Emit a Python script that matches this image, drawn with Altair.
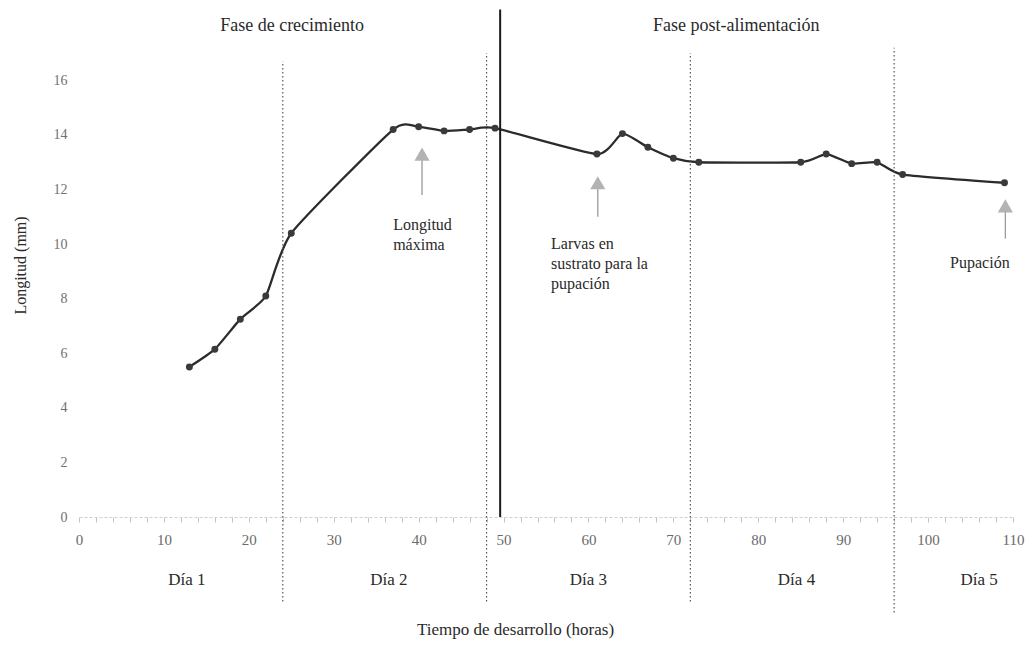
import altair as alt
import pandas as pd

# Longitud larval medida cada 3 horas
horas = [13, 16, 19, 22, 25, 37, 40, 43, 46, 49, 61, 64, 67, 70, 73, 85, 88, 91, 94, 97, 109]
longitud = [5.5, 6.15, 7.25, 8.1, 10.4, 14.2, 14.3, 14.15, 14.2, 14.25,
            13.3, 14.05, 13.55, 13.15, 13.0, 13.0, 13.3, 12.95, 13.0, 12.55, 12.25]

# Límites entre días (líneas punteadas)
limites_dia = [24, 48, 72, 96]
limites_sup = [16.7, 17.0, 17.0, 17.2]
limites_inf = [-3.1, -3.1, -3.1, -3.5]

# Cambio de fase (línea continua)
cambio_fase = [49.6]
cambio_sup = [18.6]

# Rótulos de los días
dias = ["Día 1", "Día 2", "Día 3", "Día 4", "Día 5"]
dias_x = [12.7, 36.5, 60.0, 84.5, 106.0]
dias_y = [-2.3, -2.3, -2.3, -2.3, -2.3]

# Rótulos de las fases
fases = ["Fase de crecimiento", "Fase post-alimentación"]
fases_x = [25.1, 77.4]
fases_y = [18.0, 18.0]

# Flechas de los eventos
flechas_x = [40.4, 61.1, 109.1]
flechas_punta = [13.6, 12.55, 11.7]
flechas_base = [11.8, 11.0, 10.2]

# Textos de los eventos
eventos = ["Longitud\nmáxima", "Larvas en\nsustrato para la\npupación", "Pupación"]
eventos_x = [37.0, 55.6, 106.1]
eventos_y = [11.0, 10.3, 9.6]
eventos_alin = ["left", "left", "center"]

FUENTE = "Liberation Serif"
X_DOM = [0, 110]
Y_DOM = [0, 18.8]
TX = "Tiempo de desarrollo (horas)"
TY = "Longitud (mm)"

escala_x = alt.Scale(domain=X_DOM, nice=False, zero=False)
escala_y = alt.Scale(domain=Y_DOM, nice=False, zero=False)

eje_x = alt.Axis(
    values=list(range(0, 111, 2)),
    labelExpr="datum.value % 10 == 0 ? datum.label : ''",
    labelOverlap=False, labelFlush=False, grid=False,
    domainColor="#cfcfcf", domainDash=[3, 2], domainWidth=1,
    tickColor="#c4c4c4", tickSize=5, tickWidth=1,
    labelPadding=10, labelFont=FUENTE, labelFontSize=15, labelColor="#6a6a6a",
    titleFont=FUENTE, titleFontSize=17, titleFontWeight="normal", titleColor="#2a2a2a",
    titleY=112, titleX=436, titleBaseline="middle", titleAlign="center",
)
eje_y = alt.Axis(
    values=list(range(0, 17, 2)),
    domain=False, ticks=False, grid=False,
    labelPadding=12, labelFont=FUENTE, labelFontSize=14, labelColor="#707070",
    titleFont=FUENTE, titleFontSize=16, titleFontWeight="normal", titleColor="#2a2a2a",
    titleAngle=270, titleX=-59, titleY=261, titleAlign="center", titleBaseline="middle",
)


def ex(campo="horas"):
    return alt.X(f"{campo}:Q", scale=escala_x, axis=eje_x, title=TX)


def ey(campo="longitud"):
    return alt.Y(f"{campo}:Q", scale=escala_y, axis=eje_y, title=TY)


datos = pd.DataFrame({"horas": horas, "longitud": longitud})

curva = alt.Chart(datos).mark_line(
    interpolate="cardinal", tension=0.45, color="#2b2b2b", strokeWidth=2.3
).encode(x=ex(), y=ey())

puntos = alt.Chart(datos).mark_circle(
    size=48, color="#3a3a3a", opacity=1
).encode(x=ex(), y=ey())

df_lim = pd.DataFrame({"horas": limites_dia, "sup": limites_sup, "inf": limites_inf})
lineas_dia = alt.Chart(df_lim).mark_rule(
    color="#555555", strokeWidth=1.2, strokeDash=[1.5, 2.5]
).encode(x=ex(), y=ey("inf"), y2="sup:Q")

df_fase = pd.DataFrame({"horas": cambio_fase, "inf": [0.0], "sup": cambio_sup})
linea_fase = alt.Chart(df_fase).mark_rule(
    color="#1a1a1a", strokeWidth=2
).encode(x=ex(), y=ey("inf"), y2="sup:Q")

df_dias = pd.DataFrame({"horas": dias_x, "longitud": dias_y, "texto": dias})
rot_dias = alt.Chart(df_dias).mark_text(
    font=FUENTE, fontSize=17, color="#2a2a2a", align="center", baseline="middle"
).encode(x=ex(), y=ey(), text="texto:N")

df_fases = pd.DataFrame({"horas": fases_x, "longitud": fases_y, "texto": fases})
rot_fases = alt.Chart(df_fases).mark_text(
    font=FUENTE, fontSize=18, color="#2a2a2a", align="center", baseline="middle"
).encode(x=ex(), y=ey(), text="texto:N")

df_fl = pd.DataFrame({
    "horas": flechas_x,
    "punta": [p - 0.45 for p in flechas_punta],
    "cabeza": [p - 0.3 for p in flechas_punta],
    "base": flechas_base,
})
astiles = alt.Chart(df_fl).mark_rule(
    color="#9a9a9a", strokeWidth=1.3
).encode(x=ex(), y=ey("base"), y2="punta:Q")
cabezas = alt.Chart(df_fl).mark_point(
    shape="triangle-up", size=230, filled=True, color="#b3b3b3", opacity=1
).encode(x=ex(), y=ey("cabeza"))

capas_eventos = []
for txt, x, y, al in zip(eventos, eventos_x, eventos_y, eventos_alin):
    df_e = pd.DataFrame({"horas": [x], "longitud": [y], "texto": [txt]})
    capas_eventos.append(
        alt.Chart(df_e).mark_text(
            font=FUENTE, fontSize=16, color="#2a2a2a", align=al, baseline="top",
            lineBreak="\n", lineHeight=20,
        ).encode(x=ex(), y=ey(), text="texto:N")
    )

chart = alt.layer(
    curva, lineas_dia, linea_fase, astiles, cabezas, puntos, rot_dias, rot_fases, *capas_eventos
).properties(
    width=934, height=513,
    padding={"left": 79, "top": 4, "right": 21, "bottom": 129},
    autosize=alt.AutoSizeParams(type="none"),
    background="white",
).configure_view(stroke=None)

chart.save("out.html", embed_options={"renderer": "svg", "actions": False})
